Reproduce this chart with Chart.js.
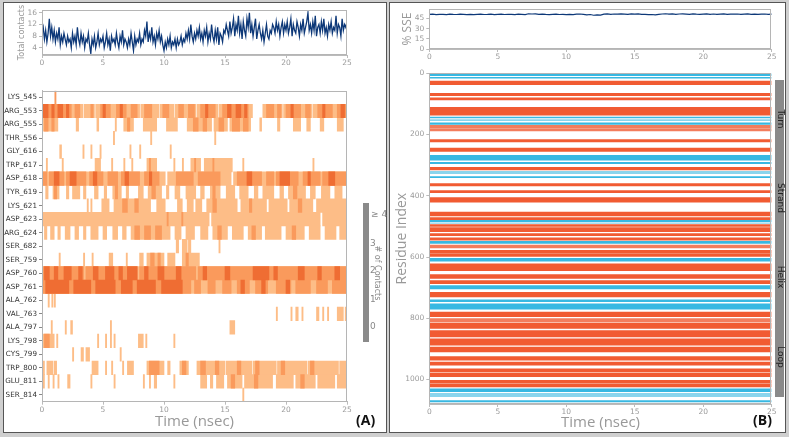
<!DOCTYPE html>
<html><head><meta charset="utf-8">
<script src="https://cdn.jsdelivr.net/npm/chart.js@4.4.1/dist/chart.umd.min.js"></script>
<style>
html,body{margin:0;padding:0;}
body{width:789px;height:437px;background:#cfcfcf;position:relative;overflow:hidden;font-family:"DejaVu Sans",sans-serif;}
.panel{position:absolute;background:#fff;border:1.5px solid #555;box-sizing:border-box;}
canvas{position:absolute;}
.lbl{position:absolute;white-space:nowrap;line-height:1;}
.rot{transform:translate(-50%,-50%) rotate(90deg);}
</style></head><body>
<div class="panel" style="left:3px;top:2px;width:384px;height:431px"></div>
<div class="panel" style="left:389px;top:2px;width:397px;height:431px"></div>
<canvas id="a1" width="389" height="75" style="left:0;top:0"></canvas>
<canvas id="a2" width="389" height="352" style="left:0;top:80px"></canvas>
<canvas id="b1" width="400" height="75" style="left:389px;top:0"></canvas>
<canvas id="b2" width="400" height="372" style="left:389px;top:60px"></canvas>

<div style="position:absolute;left:362.5px;top:203px;width:6px;height:139px;background:#8a8a8a"></div>
<div class="lbl" style="left:371px;top:210px;font-size:9px;color:#888">≥ 4</div>
<div class="lbl" style="left:370px;top:239px;font-size:9px;color:#888">3</div>
<div class="lbl" style="left:370px;top:266px;font-size:9px;color:#888">2</div>
<div class="lbl" style="left:370px;top:295px;font-size:9px;color:#888">1</div>
<div class="lbl" style="left:370px;top:322px;font-size:9px;color:#888">0</div>
<div class="lbl rot" style="left:377px;top:273px;font-size:8px;color:#888"># of Contacts</div>
<div class="lbl" style="left:356px;top:413px;font-size:14px;font-weight:bold;color:#111;font-family:'Open Sans',sans-serif">(A)</div>
<div class="lbl" style="left:753px;top:413px;font-size:14px;font-weight:bold;color:#111;font-family:'Open Sans',sans-serif">(B)</div>

<div style="position:absolute;left:775px;top:80px;width:8.5px;height:317px;background:#8a8a8a"></div>
<div class="lbl rot" style="left:779.5px;top:119px;font-size:9px;color:#222">Turn</div>
<div class="lbl rot" style="left:779.5px;top:198px;font-size:9px;color:#222">Strand</div>
<div class="lbl rot" style="left:779.5px;top:277px;font-size:9px;color:#222">Helix</div>
<div class="lbl rot" style="left:779.5px;top:357px;font-size:9px;color:#222">Loop</div>

<script>
// ---------------- DATA ----------------
const timeTicks = [0, 5, 10, 15, 20, 25];
const contactTicks = [4, 8, 12, 16];
const sseTicks = [0, 15, 30, 45];
const residueTicks = [0, 200, 400, 600, 800, 1000];

// total contacts, sampled every 0.1 ns from 0 to 25 ns
const contactStep = 0.1;
const totalContacts = [
 9,11,7,10,6,9,14,8,11,7,
 10,6,9,7,11,5,8,6,9,7,
 5,8,6,7,4,9,6,8,5,11,
 7,5,9,6,8,4,7,6,9,5,
 2,7,5,8,4,6,9,5,7,6,
 8,4,6,9,5,7,3,8,6,7,
 5,9,6,4,8,6,10,5,7,6,
 4,7,5,9,6,3,8,5,7,6,
 9,5,7,6,10,8,13,6,9,7,
 11,6,8,5,9,7,10,6,8,5,
 3,6,4,7,5,8,4,6,5,7,
 4,7,5,6,8,5,7,6,9,7,
 10,7,12,8,6,9,7,10,8,11,
 7,9,6,10,8,11,6,9,7,12,
 8,6,10,7,11,5,9,8,6,10,
 9,12,10,8,13,9,11,14,8,12,
 10,15,9,12,7,13,10,8,14,11,
 16,9,12,8,11,14,7,10,12,9,
 7,10,6,9,12,8,7,10,9,12,
 11,9,13,10,12,8,11,13,9,12,
 10,13,9,11,14,8,12,10,9,13,
 11,8,12,10,14,9,11,13,16,10,
 12,9,13,10,15,8,11,12,9,13,
 10,14,9,11,8,12,10,13,9,11,
 10,15,9,12,11,8,14,10,12,11,
 13
];

// % SSE, sampled every 0.25 ns
const sseStep = 0.25;
const ssePercent = [
 51,51.5,50.8,51.2,51,50.6,51.3,51,50.9,51.4,
 51,50.7,51.2,50.8,51.1,51.5,50.9,51,51.3,50.8,
 51.1,51.4,50.9,51.2,51,50.7,51.3,51,50.8,52,
 51.6,51.9,51.2,51.5,51,50.8,51.2,51.4,50.9,51.1,
 50.6,51,50.8,51.3,51.6,51,50.4,50.9,49.8,50.2,
 50,51.5,51.8,51.2,51.6,51.3,51.9,51.5,51.1,51.7,
 51.4,51.8,51.2,51,50.6,50.9,50.4,51,51.6,52,
 51.4,51.7,51.2,51.6,51.9,51.5,51.2,51.7,51.3,51.1,
 51.5,51.8,51.2,51.6,51,51.4,51.7,51.1,51.5,51.3,
 51.6,51,51.4,51.7,51.2,51.5,51,51.3,51.6,51.2,51.4
];

const rowLabels = ['LYS_545','ARG_553','ARG_555','THR_556','GLY_616','TRP_617','ASP_618','TYR_619','LYS_621','ASP_623','ARG_624','SER_682','SER_759','ASP_760','ASP_761','ALA_762','VAL_763','ALA_797','LYS_798','CYS_799','TRP_800','GLU_811','SER_814'];

// time intervals (ns) with 1 contact, per row
const oneContact = [
 [],
 [[0,3.35],[3.45,4.3],[4.4,8.0],[8.1,9.6],[9.7,10.8],[10.9,12.6],[12.7,14.4],[14.5,17.25],[18.1,19.7],[19.8,22.1],[22.2,25]],
 [[0,1.3],[2.8,3.0],[4.5,4.65],[6.0,6.1],[6.7,7.5],[8.3,9.4],[10.2,11.1],[11.9,13.9],[14.1,15.2],[15.4,17.1],[17.85,18.0],[19.3,19.5],[20.6,21.2],[21.7,22.0],[22.8,23.1],[24.2,24.7]],
 [[5.85,5.95],[8.9,9.0],[14.15,14.25]],
 [[1.45,1.6],[3.35,3.45],[4.0,4.1],[4.75,4.85],[7.2,7.3],[8.0,8.1],[10.5,10.6]],
 [[0.35,0.45],[1.65,1.75],[4.35,4.8],[5.7,5.8],[6.7,6.8],[7.35,7.45],[8.6,9.4],[10.8,10.9],[11.5,11.6],[12.2,13.0],[13.3,15.6],[16.45,16.55],[22.2,22.3]],
 [[0,10.1],[10.3,15.5],[15.7,25]],
 [[0.3,0.5],[0.9,1.4],[2.0,2.2],[2.5,3.1],[3.4,3.6],[4.3,4.6],[5.1,5.3],[5.8,6.5],[6.9,7.1],[7.9,8.3],[8.7,9.8],[10.2,10.4],[10.9,11.3],[11.8,12.6],[13.0,13.3],[13.8,14.6],[15.1,15.8],[16.2,16.9],[17.4,17.7],[18.1,19.0],[19.5,19.8],[20.2,21.6],[22.0,22.4],[22.9,23.6],[24.0,24.6]],
 [[3.7,3.8],[4.0,4.1],[4.9,5.5],[5.9,8.9],[9.4,10.1],[11.1,11.5],[11.9,12.4],[12.6,13.1],[13.5,16.0],[16.3,18.4],[18.6,20.1],[20.3,22.2],[22.5,25]],
 [[0,13.7],[13.9,22.8],[23.0,25]],
 [[0.2,0.4],[0.7,1.0],[1.3,1.5],[1.9,2.3],[2.7,3.0],[3.4,3.6],[4.0,4.6],[5.0,5.3],[5.8,6.2],[6.6,6.9],[7.3,10.5],[10.9,11.4],[11.8,12.5],[13.0,13.6],[14.0,15.2],[15.6,16.5],[16.9,18.0],[18.3,19.6],[20.0,21.5],[21.9,22.8],[23.2,24.1],[24.4,25]],
 [[11.0,11.2],[11.5,11.9],[12.0,12.2],[14.5,14.6]],
 [[1.4,1.5],[3.4,3.5],[4.1,4.2],[5.5,5.8],[6.9,7.0],[8.0,8.3],[8.6,10.0],[10.3,10.9],[11.5,12.9]],
 [[0,25]],
 [[0,25]],
 [[0.5,0.6],[0.8,0.9],[1.0,1.1]],
 [[19.2,19.3],[20.4,20.5],[20.8,21.0],[21.3,21.4],[22.5,22.7],[23.0,23.1],[23.4,23.5],[24.2,24.7],[24.85,25]],
 [[0.75,0.85],[1.9,2.0],[2.35,2.5],[5.6,5.7],[15.4,15.8]],
 [[0,1.0],[1.2,1.3],[4.55,4.65],[5.2,5.3],[5.6,5.7],[5.9,6.0],[7.9,8.3],[8.5,8.6],[10.8,10.9]],
 [[2.5,2.6],[3.2,3.4],[3.6,3.9],[6.4,6.5]],
 [[0.1,0.2],[0.4,0.9],[1.0,1.2],[4.1,4.6],[5.2,5.3],[5.7,5.8],[6.6,6.7],[7.0,7.5],[8.6,10.0],[10.3,10.5],[11.3,12.0],[12.7,15.0],[15.1,17.2],[17.3,19.2],[19.3,21.7],[21.8,24.3],[24.4,25]],
 [[0.1,0.2],[0.5,0.6],[0.9,1.0],[1.3,1.4],[2.1,2.3],[4.0,4.1],[5.9,6.0],[8.3,8.4],[8.8,8.9],[9.2,9.4],[10.8,10.9],[13.0,13.5],[13.8,14.0],[14.3,14.9],[15.2,16.4],[16.6,18.9],[19.2,20.6],[20.8,22.4],[22.6,24.0],[24.2,25]],
 [[16.45,16.55]]
];

// time intervals (ns) with 2 contacts, per row
const twoContacts = [
 [[1.05,1.15]],
 [[0,2.4],[2.7,3.1],[4.0,4.2],[4.8,5.6],[6.1,6.9],[7.3,7.8],[8.4,9.0],[9.9,10.4],[11.2,11.6],[12.0,12.5],[13.0,14.2],[14.8,16.9],[18.4,19.0],[19.3,19.6],[20.0,21.2],[21.6,22.0],[22.6,23.8],[24.2,25]],
 [[0.2,0.5],[0.8,1.0],[7.0,7.2],[12.4,12.8],[13.2,13.5],[14.5,14.9],[15.6,16.2],[16.5,16.9]],
 [], [],
 [[8.8,8.9],[12.5,12.6],[14.0,14.1]],
 [[0,0.4],[0.6,1.8],[2.0,3.6],[3.9,5.0],[5.4,6.2],[6.5,8.0],[8.4,9.6],[11.0,12.4],[12.8,14.6],[16.0,18.0],[18.4,19.0],[19.2,21.0],[21.4,22.8],[23.0,25]],
 [[1.0,1.2],[6.0,6.2],[9.0,9.3],[14.0,14.2],[20.6,20.9]],
 [[6.6,7.0],[7.6,7.9],[14.0,14.3],[17.0,17.2],[21.0,21.3]],
 [[10.25,10.35],[11.45,11.55]],
 [[7.6,8.0],[8.4,8.9],[9.3,9.8],[14.4,14.7],[17.2,17.5],[20.5,20.8]],
 [],
 [[8.9,9.2],[9.5,9.7],[11.8,12.0]],
 [[0,3.4],[3.6,7.8],[8.0,12.6],[12.8,25]],
 [[0,12.2],[12.5,13.0],[13.6,14.2],[14.8,15.5],[16.0,17.0],[17.5,18.5],[19.2,20.4],[20.8,22.0],[22.5,23.4],[23.8,25]],
 [], [], [],
 [[0.2,0.6]],
 [],
 [[8.8,9.6],[11.5,11.8],[13.0,13.4],[14.2,14.5],[16.0,16.3],[17.5,17.8],[19.6,19.9],[22.0,22.3]],
 [[15.5,15.8],[17.4,17.7],[21.2,21.5]],
 []
];

// time intervals (ns) with 3 or more contacts, per row
const threePlusContacts = [
 [],
 [[0.1,0.5],[0.8,1.0],[1.3,1.7],[2.0,2.2],[5.0,5.2],[6.4,6.6],[13.4,13.6],[15.2,15.5],[15.9,16.3],[16.6,16.8],[20.4,20.6],[23.0,23.2],[24.5,24.8]],
 [], [], [], [],
 [[1.0,1.4],[2.3,2.8],[4.2,4.5],[6.8,7.1],[8.8,9.0],[16.8,17.2],[19.5,20.3],[21.8,22.0],[23.5,24.0]],
 [], [], [], [], [], [],
 [[0.2,0.6],[1.0,1.3],[1.8,2.4],[3.0,3.3],[4.2,4.6],[5.2,5.9],[6.3,6.6],[7.0,7.8],[8.4,8.7],[9.5,10.0],[11.0,11.4],[13.2,13.5],[15.0,15.4],[17.3,18.6],[19.0,19.3],[21.0,21.5],[22.6,22.9],[24.0,24.4]],
 [[0.3,2.2],[2.6,4.0],[4.4,6.0],[6.5,7.4],[7.8,9.3],[9.8,11.5],[16.3,16.6],[18.0,18.3],[20.0,20.3]],
 [], [], [], [], [], [], [], []
];

// secondary-structure bands: [first residue, last residue]
const helixBands = [[24,37],[64,73],[79,87],[110,137],[215,224],[243,255],[306,316],[359,368],[382,390],[405,421],[452,466],[470,478],[493,500],[503,517],[522,530],[536,545],[577,588],[590,598],[621,645],[656,670],[676,687],[714,730],[779,795],[815,833],[839,861],[866,888],[893,910],[924,937],[942,953],[964,975],[978,991],[1002,1011],[1013,1024]];
const weakHelixBands = [[169,180],[182,188],[560,570],[800,812]];
const strandBands = [[0,8],[12,16],[142,146],[161,167],[267,284],[290,295],[336,341],[479,485],[548,556],[603,614],[692,704],[739,746],[752,770],[1029,1040],[1068,1073]];
const weakStrandBands = [[150,155],[319,328],[487,490],[1044,1056]];

// ---------------- CHARTS ----------------
Chart.defaults.font.family = "'DejaVu Sans', sans-serif";
Chart.defaults.animation = false;
Chart.defaults.plugins.legend.display = false;
Chart.defaults.plugins.tooltip.enabled = false;
Chart.defaults.responsive = false;
Chart.defaults.devicePixelRatio = 1;

const TICKGRAY = '#9a9a9a';
const boxPlugin = {id:'box', afterDraw(c){
  const a = c.chartArea, x = c.ctx;
  x.save(); x.strokeStyle = '#b5b5b5'; x.lineWidth = 1;
  x.strokeRect(Math.round(a.left)+0.5, Math.round(a.top)+0.5, Math.round(a.right-a.left)-1, Math.round(a.bottom-a.top)-1);
  x.restore();
}};

function timeAxis(h, title){
  return {
    type:'linear', min:0, max:25,
    afterBuildTicks: s => { s.ticks = timeTicks.map(v => ({value:v})); },
    afterFit: s => { s.height = h; },
    ticks:{color:TICKGRAY, font:{size:7.5}, padding:1, maxRotation:0, autoSkip:false, callback: v => String(v)},
    grid:{drawOnChartArea:false, tickLength:3, color:'#bbb'},
    border:{color:'#bbb'},
    title: title ? {display:true, text:title.text, color:'#999', font:{size:title.size, family:"'Open Sans', sans-serif"}, padding:{top:0,bottom:title.pb}} : {display:false}
  };
}
function valueAxis(w, tickArr, min, max, title, reverse){
  return {
    type:'linear', min:min, max:max, reverse:!!reverse,
    afterBuildTicks: s => { s.ticks = tickArr.map(v => ({value:v})); },
    afterFit: s => { s.width = w; },
    ticks:{color:TICKGRAY, font:{size:7.5}, padding:2, autoSkip:false, callback: v => String(v)},
    grid:{drawOnChartArea:false, tickLength:3, color:'#bbb'},
    border:{color:'#bbb'},
    title:{display:true, text:title.text, color:'#999', font:{size:title.size, family:title.family || "'DejaVu Sans', sans-serif"}, padding:{top:title.pt, bottom:0}}
  };
}

// A1: total contacts
new Chart(document.getElementById('a1'), {
  type:'line',
  data:{datasets:[{data: totalContacts.map((v,i) => ({x: i*contactStep, y: v})), borderColor:'#0d3878', borderWidth:1.3, pointRadius:0, tension:0}]},
  options:{
    layout:{padding:{left:0, right:42, top:10, bottom:0}},
    scales:{ x: timeAxis(20), y: valueAxis(42, contactTicks, 1.5, 17, {text:'Total contacts', size:8, pt:17}) }
  },
  plugins:[boxPlugin]
});

// A2: contacts per residue
function segData(levelRows){
  const out = [];
  levelRows.forEach((segs, r) => segs.forEach(s => out.push({y: rowLabels[r], x: [s[0], s[1]]})));
  return out;
}
const barCommon = {grouped:false, categoryPercentage:1, barPercentage:1, borderWidth:0, borderSkipped:false};
new Chart(document.getElementById('a2'), {
  type:'bar',
  data:{labels: rowLabels, datasets:[
    Object.assign({data: segData(oneContact), backgroundColor:'#fdbd87', order:3}, barCommon),
    Object.assign({data: segData(twoContacts), backgroundColor:'#fa9a5c', order:2}, barCommon),
    Object.assign({data: segData(threePlusContacts), backgroundColor:'#ef6d33', order:1}, barCommon)
  ]},
  options:{
    indexAxis:'y',
    layout:{padding:{left:0, right:42, top:10.7, bottom:0}},
    scales:{
      x: timeAxis(30.3, {text:'Time (nsec)', size:15, pb:1}),
      y: {type:'category', labels: rowLabels, offset:true,
          afterFit: s => { s.width = 42; },
          ticks:{color:'#333', font:{size:7.2}, padding:2, autoSkip:false},
          grid:{drawOnChartArea:false, tickLength:3, color:'#888', offset:false},
          border:{color:'#bbb'}}
    }
  },
  plugins:[boxPlugin]
});

// B1: % SSE
new Chart(document.getElementById('b1'), {
  type:'line',
  data:{datasets:[{data: ssePercent.map((v,i) => ({x: i*sseStep, y: v})), borderColor:'#0d3878', borderWidth:1.2, pointRadius:0, tension:0}]},
  options:{
    layout:{padding:{left:0, right:17.3, top:9, bottom:0}},
    scales:{ x: timeAxis(26), y: valueAxis(40.3, sseTicks, 0, 59, {text:'% SSE', size:12, pt:11, family:"'Open Sans', sans-serif"}) }
  },
  plugins:[boxPlugin]
});

// B2: SSE per residue
function bandSets(bands, color, ord){
  return bands.map(b => ({
    data:[{x:0, y:b[0]}, {x:25, y:b[0]}],
    fill:{value: b[1] + 1}, backgroundColor: color, order: ord,
    borderColor:'transparent', borderWidth:0, pointRadius:0
  }));
}
new Chart(document.getElementById('b2'), {
  type:'line',
  data:{datasets: [].concat(
    bandSets(helixBands, '#f15b32', 2),
    bandSets(strandBands, '#38b8e2', 2),
    bandSets(weakHelixBands, 'rgba(240,92,52,0.8)', 1),
    bandSets(weakStrandBands, 'rgba(60,185,225,0.6)', 1)
  )},
  options:{
    layout:{padding:{left:0, right:17.3, top:13.3, bottom:0}},
    scales:{ x: timeAxis(28, {text:'Time (nsec)', size:15, pb:0}),
             y: valueAxis(40.3, residueTicks, 0, 1080, {text:'Residue Index', size:14, pt:4.6, family:"'Open Sans', sans-serif"}, true) }
  },
  plugins:[boxPlugin]
});
</script>
</body></html>
